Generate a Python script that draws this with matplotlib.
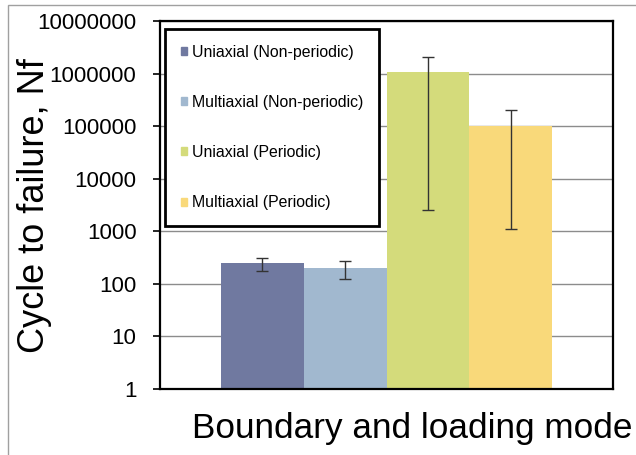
import matplotlib
matplotlib.use("Agg")
import matplotlib.pyplot as plt
import matplotlib.patches as mpatches
import numpy as np

plt.rcParams['font.family'] = ['Liberation Sans', 'DejaVu Sans']

# values
labels = ['Uniaxial (Non-periodic)', 'Multiaxial (Non-periodic)',
          'Uniaxial (Periodic)', 'Multiaxial (Periodic)']
cycles = [245, 200, 1050000, 100000]
errors = [70, 78, 1047500, 98900]
colors = ['#7079A0', '#A1B8CF', '#D4DB7B', '#F9D97A']
yticks = [1, 10, 100, 1000, 10000, 100000, 1000000, 10000000]


def main():
    fig = plt.figure(figsize=(6.36, 4.55), dpi=100)
    ax = fig.add_axes([160 / 636, 66 / 455, 453 / 636, 368 / 455])

    # light grey frame round the chart area, as in the source
    fig.patches.append(mpatches.Rectangle(
        (8 / 636, -0.1), 1.2, (455 - 5) / 455 + 0.1, transform=fig.transFigure,
        fill=False, edgecolor='#A0A0A0', linewidth=1.0))

    x = np.arange(len(cycles)) - 1.5
    ax.bar(x, cycles, width=1.0, color=colors, zorder=2)
    ax.errorbar(x, cycles, yerr=errors, fmt='none', ecolor='#333333',
                elinewidth=1.0, capsize=4, capthick=1.0, zorder=3)

    ax.set_yscale('log')
    ax.set_ylim(1, 10000000)
    ax.set_xlim(-2.73, 2.73)
    ax.set_yticks(yticks)
    ax.set_yticklabels([str(v) for v in yticks])
    ax.yaxis.set_minor_locator(matplotlib.ticker.NullLocator())
    ax.set_xticks([])
    ax.tick_params(axis='y', direction='out', length=5, width=1.2,
                   labelsize=16, pad=12)
    ax.grid(axis='y', color='#8C8C8C', linewidth=1.0, zorder=0)
    for sp in ax.spines.values():
        sp.set_color('black')
        sp.set_linewidth(1.6)

    handles = [mpatches.Patch(color=c) for c in colors]
    leg = ax.legend(handles, labels, loc='upper left',
                    bbox_to_anchor=(5 / 453, 360 / 368), fontsize=11.4,
                    frameon=True, fancybox=False, framealpha=1.0,
                    borderpad=1.0, labelspacing=2.22, handlelength=0.4,
                    handleheight=0.4, handletextpad=0.3, borderaxespad=0)
    leg.get_frame().set_edgecolor('black')
    leg.get_frame().set_linewidth(2.0)
    leg.set_zorder(5)

    fig.text(412 / 636, 17 / 455, 'Boundary and loading mode', fontsize=25.3,
             ha='center', va='baseline')
    fig.text(35 / 636, 249 / 455, 'Cycle to failure, Nf', fontsize=26,
             rotation=90, ha='center', va='center')

    fig.savefig('out.png', dpi=100)


if __name__ == '__main__':
    main()
